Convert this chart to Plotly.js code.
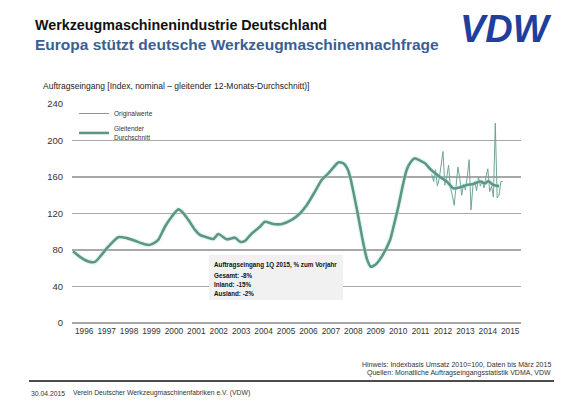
<!DOCTYPE html>
<html>
<head>
<meta charset="utf-8">
<script src="https://cdn.plot.ly/plotly-3.0.1.min.js"></script>
<style>
html,body{margin:0;padding:0;background:#fff;}
#chart{width:580px;height:402px;}
</style>
</head>
<body>
<div id="chart"></div>
<script>
// ---- data ----
var yearLabels = ["1996","1997","1998","1999","2000","2001","2002","2003","2004","2005","2006","2007","2008","2009","2010","2011","2012","2013","2014","2015"];
var yTicks = [0,40,80,120,160,200,240];

// 12-month moving average (decimal year, index value)
var smoothX = [1996.00,1996.31,1996.68,1996.98,1997.25,1997.57,1998.02,1998.40,1998.77,1999.06,1999.36,1999.57,1999.80,2000.10,2000.40,2000.70,2000.90,2001.20,2001.44,2001.66,2001.96,2002.26,2002.48,2002.86,2003.23,2003.45,2003.67,2003.97,2004.34,2004.56,2004.93,2005.32,2005.75,2006.12,2006.42,2006.79,2007.09,2007.39,2007.60,2007.83,2008.06,2008.22,2008.36,2008.65,2008.95,2009.11,2009.28,2009.39,2009.55,2009.77,2010.14,2010.29,2010.51,2010.72,2010.88,2011.08,2011.25,2011.48,2011.70,2011.92,2012.07,2012.37,2012.67,2012.96,2013.26,2013.56,2013.85,2014.15,2014.38,2014.52,2014.75,2015.00];
var smoothY = [78.5,72.5,67.5,67,74,83.6,94,93,90.2,87.3,85.5,87,91,105.5,116.5,124.5,121,111,102,96.5,94,92,97.5,91.7,93.5,89,90,98,105.5,111,108.5,108.5,113,120,129,144,156.7,164,170,176,175,170,160,126,87,70,61.7,62.5,65.4,72.7,91,105,127.5,152,167.7,177,180.5,178,175,169,165.8,160,155,147.6,148.7,151.2,152.3,155,153,155.6,151.2,150];

// monthly original values, Jan 2012 .. Mar 2015
var origStartYear = 2012;
var origY = [163,155,168,150,158,172,188,151,160,173,148,140,129,150,171,158,140,152,146,160,179,124,150,155,145,160,150,156,148,160,169,144,150,138,219,137,140,155,155];

// box texts
var boxTitle = "Auftragseingang 1Q 2015, % zum Vorjahr";
var boxLines = ["Gesamt: -8%","Inland: -15%","Ausland: -2%"];

// ---- layout helpers (page pixel -> paper coords) ----
var PL = 72, PR = 521, PT = 104, PB = 323;
function X(px){ return (px - PL) / (PR - PL); }
function Y(py){ return (PB - py) / (PB - PT); }

var origX = origY.map(function(v,i){ return origStartYear + i/12; });
var tickVals = yearLabels.map(function(s){ return Number(s) + 0.5; });

var FONT = "Arial, 'Liberation Sans', sans-serif";

var traces = [
  {x: origX, y: origY, type: "scatter", mode: "lines", name: "Originalwerte",
   line: {color: "#6fa596", width: 1}, hoverinfo: "skip"},
  {x: smoothX, y: smoothY, type: "scatter", mode: "lines", showlegend: false,
   line: {color: "rgba(170,230,218,0.35)", width: 5, shape: "spline", smoothing: 0.6}, hoverinfo: "skip"},
  {x: smoothX, y: smoothY, type: "scatter", mode: "lines", name: "Gleitender<br>Durchschnitt",
   line: {color: "#5e9686", width: 2.6, shape: "spline", smoothing: 0.6}, hoverinfo: "skip"}
];

var ann = [];
function txt(t, px, py, size, opts){
  opts = opts || {};
  ann.push({text: t, xref: "paper", yref: "paper", x: X(px), y: Y(py),
    xanchor: opts.xanchor || "left", yanchor: "middle", showarrow: false,
    font: {family: opts.family || FONT, size: size, color: opts.color || "#222"}});
}
txt("<b>Werkzeugmaschinenindustrie Deutschland</b>", 33, 25, 14.3, {color: "#111"});
txt("<b>Europa stützt deutsche Werkzeugmaschinennachfrage</b>", 33, 45, 15.5, {color: "#3b5e93"});
txt("<b><i>VDW</i></b>", 554, 29, 38, {xanchor: "right", color: "#1f3f9e"});
txt("Auftragseingang [Index, nominal – gleitender 12-Monats-Durchschnitt)]", 41, 86, 8.5, {color: "#222"});
txt("<b>" + boxTitle + "</b>", 212, 265, 6.3, {color: "#111"});
boxLines.forEach(function(l, i){ txt("<b>" + l + "</b>", 212, 275 + i*9.4, 6.3, {color: "#111"}); });
txt("Hinweis: Indexbasis Umsatz 2010=100, Daten bis März 2015", 553, 364, 7, {xanchor: "right", color: "#333"});
txt("Quellen: Monatliche Auftragseingangsstatistik VDMA, VDW", 553, 373, 7, {xanchor: "right", color: "#333"});
txt("30.04.2015", 29, 393, 6.8, {color: "#333"});
txt("Verein Deutscher Werkzeugmaschinenfabriken e.V. (VDW)", 71, 393, 6.8, {color: "#333"});

var shapes = [
  {type: "rect", xref: "paper", yref: "paper", x0: X(209), x1: X(343), y0: Y(300), y1: Y(255),
   fillcolor: "#f1f1f1", line: {width: 0}, layer: "above"},
  {type: "line", xref: "paper", yref: "paper", x0: X(29), x1: X(554), y0: Y(381), y1: Y(381),
   line: {color: "#111", width: 1.3}},
  // white stripes across the logo letters
  {type: "line", xref: "paper", yref: "paper", x0: X(455), x1: X(556), y0: Y(24), y1: Y(24),
   line: {color: "#fff", width: 1.6}, layer: "above"},
  {type: "line", xref: "paper", yref: "paper", x0: X(455), x1: X(556), y0: Y(33), y1: Y(33),
   line: {color: "#fff", width: 1.6}, layer: "above"}
];

var layout = {
  width: 580, height: 402,
  margin: {l: PL, r: 580 - PR, t: PT, b: 402 - PB, pad: 0},
  paper_bgcolor: "#fff", plot_bgcolor: "#fff",
  font: {family: FONT, size: 8.5, color: "#333"},
  showlegend: true,
  legend: {x: X(74), y: Y(99), xanchor: "left", yanchor: "top", bgcolor: "rgba(0,0,0,0)",
    font: {size: 6.5, color: "#333"}, itemwidth: 30, tracegroupgap: 1},
  xaxis: {range: [1995.955, 2015.98], tickmode: "array", tickvals: tickVals, ticktext: yearLabels,
    showgrid: false, zeroline: false, showline: false, ticks: "", tickfont: {size: 8.3, color: "#333"},
    ticklabelstandoff: 2, fixedrange: true},
  yaxis: {range: [0, 240], tickmode: "array", tickvals: yTicks, showgrid: true, gridcolor: "#a8a8a8",
    gridwidth: 1.2, zeroline: true, zerolinecolor: "#a8a8a8", zerolinewidth: 1.2, showline: false,
    ticks: "", tickfont: {size: 9.5, color: "#333"}, ticklabelstandoff: 8, fixedrange: true},
  annotations: ann,
  shapes: shapes
};

Plotly.newPlot("chart", traces, layout, {displayModeBar: false, staticPlot: true});
</script>
</body>
</html>
